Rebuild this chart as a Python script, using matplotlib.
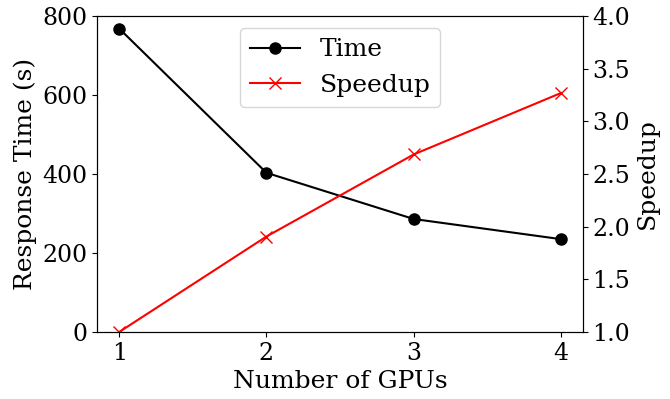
import matplotlib
matplotlib.use("Agg")
import matplotlib.pyplot as plt

plt.rcParams['font.family'] = 'DejaVu Serif'
plt.rcParams['font.size'] = 18
plt.rcParams['xtick.labelsize'] = 17
plt.rcParams['ytick.labelsize'] = 17

gpus = [1, 2, 3, 4]
response_time = [768, 403, 286, 235]
speedup = [1.0, 1.906, 2.685, 3.268]

fig, ax1 = plt.subplots(figsize=(6.7, 3.99), dpi=100)
ax2 = ax1.twinx()

l1, = ax1.plot(gpus, response_time, color='black', marker='o', markersize=8,
               linewidth=1.5, label='Time')
l2, = ax2.plot(gpus, speedup, color='red', marker='x', markersize=9,
               linewidth=1.5, label='Speedup')

ax1.set_ylim(0, 800)
ax1.set_yticks([0, 200, 400, 600, 800])
ax2.set_ylim(1.0, 4.0)
ax1.set_xticks(gpus)

ax1.set_xlabel('Number of GPUs')
ax1.set_ylabel('Response Time (s)')
ax2.set_ylabel('Speedup')

ax1.legend(handles=[l1, l2], loc='upper center')

fig.subplots_adjust(left=0.145, right=0.87, top=0.96, bottom=0.168)
fig.savefig('out.png', dpi=100)
